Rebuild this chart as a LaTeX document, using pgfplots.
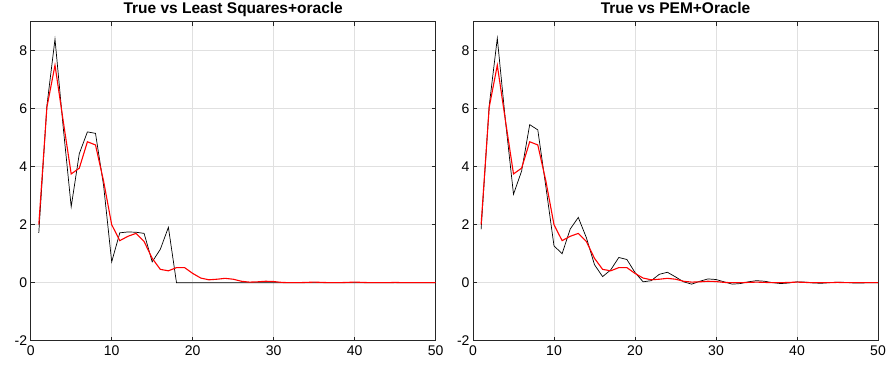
\documentclass[border=0pt]{standalone}
\usepackage{pgfplots}
\pgfplotsset{compat=1.18}
\usepackage{pgfplotstable}
\usepackage{fontspec}
\setmainfont{Liberation Sans}
\definecolor{gridc}{gray}{0.88}
\definecolor{axc}{gray}{0.15}
\pgfplotstableread{
x y
1 2.0
2 6.05
3 7.5
4 5.6
5 3.75
6 3.95
7 4.86
8 4.75
9 3.5
10 2.0
11 1.45
12 1.6
13 1.7
14 1.42
15 0.84
16 0.46
17 0.41
18 0.52
19 0.52
20 0.32
21 0.16
22 0.1
23 0.12
24 0.15
25 0.12
26 0.05
27 0.02
28 0.03
29 0.05
30 0.04
31 0.01
32 0.0
33 0.0
34 0.01
35 0.02
36 0.01
37 0.0
38 0.0
39 0.01
40 0.02
41 0.01
42 0.0
43 0.0
44 0.0
45 0.01
46 0.0
47 0.0
48 0.0
49 0.0
50 0.0
}\truetab
\pgfplotstableread{
x y
1 1.72
2 6.1
3 8.4
4 5.4
5 2.62
6 4.45
7 5.2
8 5.15
9 3.35
10 0.72
11 1.72
12 1.75
13 1.74
14 1.7
15 0.72
16 1.15
17 1.91
18 0
19 0
20 0
21 0
22 0
23 0
24 0
25 0
26 0
27 0
28 0
29 0
30 0
31 0
32 0
33 0
34 0
35 0
36 0
37 0
38 0
39 0
40 0
41 0
42 0
43 0
44 0
45 0
46 0
47 0
48 0
49 0
50 0
}\lstab
\pgfplotstableread{
x y
1 1.84
2 6.1
3 8.43
4 5.6
5 3.05
6 3.85
7 5.45
8 5.27
9 3.3
10 1.27
11 1.0
12 1.85
13 2.25
14 1.55
15 0.62
16 0.21
17 0.44
18 0.87
19 0.8
20 0.35
21 0.03
22 0.07
23 0.29
24 0.36
25 0.2
26 0.03
27 -0.05
28 0.05
29 0.13
30 0.11
31 0.03
32 -0.05
33 -0.03
34 0.03
35 0.07
36 0.05
37 0.0
38 -0.03
39 -0.01
40 0.03
41 0.02
42 -0.01
43 -0.02
44 0.0
45 0.02
46 0.01
47 -0.01
48 -0.01
49 0.0
50 0.0
}\pemtab
\pgfplotsset{
  mystyle/.style={
    scale only axis, width=405pt, height=319pt,
    xmin=0, xmax=50, ymin=-2, ymax=9,
    xtick={0,10,...,50}, ytick={-2,0,...,8},
    grid=major, major grid style={gridc, line width=0.6pt},
    axis line style={axc, line width=0.7pt},
    tick style={axc, line width=0.6pt},
    tick align=inside, major tick length=4pt,
    ticklabel style={font=\fontsize{14}{16}\selectfont, text=black},
    xticklabel style={yshift=-1pt},
    /pgf/number format/assume math mode=true,
    title style={font=\bfseries\fontsize{15.5}{18}\selectfont, at={(0.5,1)}, anchor=base, yshift=2pt},
    anchor=south west,
  }
}
\begin{document}
\begin{tikzpicture}
\path[use as bounding box] (0,0) rectangle (887pt,372pt);
\begin{axis}[mystyle, at={(30.7pt,31.3pt)}, title={True vs Least Squares+oracle}]
\addplot[black, line width=0.7pt] table[x=x,y=y] {\lstab};
\addplot[red, line width=1.1pt] table[x=x,y=y] {\truetab};
\end{axis}
\begin{axis}[mystyle, at={(473pt,31.3pt)}, title={True vs PEM+Oracle}]
\addplot[black, line width=0.7pt] table[x=x,y=y] {\pemtab};
\addplot[red, line width=1.1pt] table[x=x,y=y] {\truetab};
\end{axis}
\end{tikzpicture}
\end{document}
